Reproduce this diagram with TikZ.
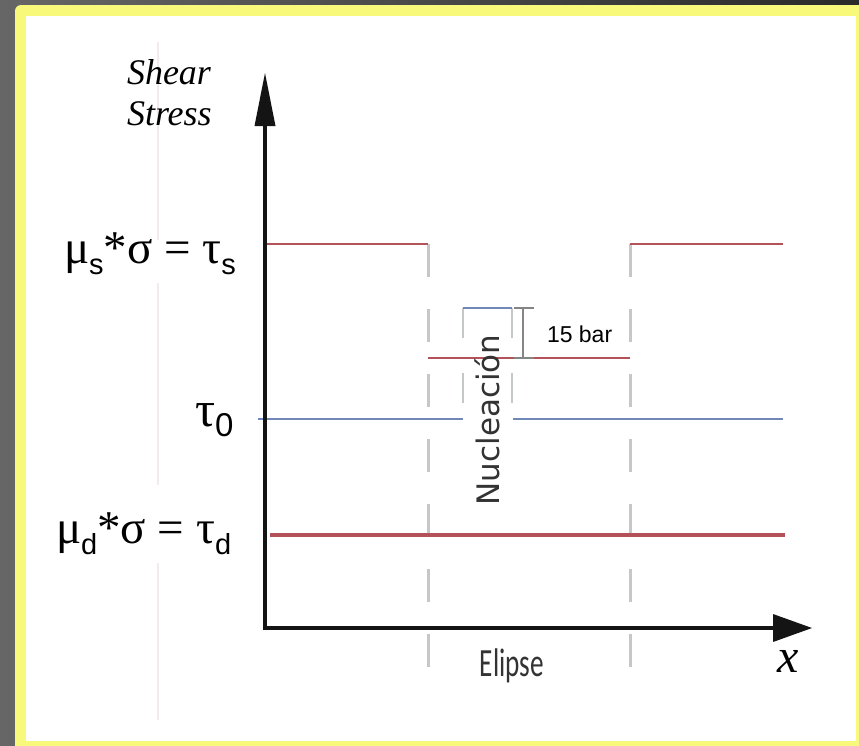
\documentclass[tikz,border=0pt]{standalone}
\usepackage{fontspec}
\usepackage{graphicx}
\setmainfont{Liberation Serif}
\newfontfamily\arialf{Liberation Sans}
\newfontfamily\dejaf{DejaVu Sans}
\newfontfamily\carlf{Carlito}
\definecolor{framegray}{HTML}{666666}
\definecolor{framedark}{HTML}{2A2A2A}
\definecolor{frameyellow}{HTML}{F8F97A}
\definecolor{stressred}{HTML}{B35258}
\definecolor{stressblue}{HTML}{7088B8}
\definecolor{dashgray}{HTML}{C4C8C8}
\definecolor{bargray}{HTML}{858585}
\definecolor{faintline}{HTML}{F2EAEC}
\tikzset{
  axisline/.style={line width=3.5pt, draw=black!92},
  axishead/.style={fill=black!92, draw=none},
  redline/.style={draw=stressred, line width=2.2pt},
  blueline/.style={draw=stressblue, line width=2pt},
  guidedash/.style={draw=dashgray, line width=3pt, dash pattern=on 33pt off 32pt},
  innerdash/.style={draw=dashgray, line width=2.5pt, dash pattern=on 30pt off 35pt},
  barline/.style={draw=bargray, line width=2.5pt},
  lbl/.style={inner sep=0pt, outer sep=0pt},
}
\newcommand{\subsc}[2]{\raisebox{#1}{\arialf\fontsize{#2}{#2}\selectfont}}
\begin{document}
\begin{tikzpicture}[x=1pt,y=-1pt]
\useasboundingbox (0,0) rectangle (859,745);
% frame
\shade[left color=framegray, right color=framedark] (0,0) rectangle (859,745);
\fill[frameyellow, rounded corners=6pt] (15,5) rectangle (880,770);
\fill[white] (26,16) rectangle (856,741);
% faint artefact line
\draw[faintline, line width=1.5pt] (158,42) -- (158,240) (158,283) -- (158,485) (158,563) -- (158,720);

% coordinates
\coordinate (yb) at (265,630);
\coordinate (yt) at (265,118);
\coordinate (xl) at (263,628);
\coordinate (xr) at (776,628);
\coordinate (lx) at (428,244);
\coordinate (rx) at (630,244);

% dashed guides
\draw[guidedash] (lx) -- (428,668);
\draw[guidedash] (rx) -- (630,668);
\draw[innerdash] (463,308) -- (463,405);
\draw[innerdash] (512,308) -- (512,405);

% tau_s lines
\draw[redline] (265,244) -- (lx);
\draw[redline] (rx) -- (783,244);
% nucleation level
\draw[redline, line width=2pt] (428,358) -- (630,358);
\draw[blueline] (463,308) -- (512,308);
% tau_0
\draw[blueline] (258,419) -- (463,419);
\draw[blueline] (513,419) -- (783,419);
% tau_d
\draw[redline, line width=4pt] (270,535) -- (785,535);

% error bar
\coordinate (bt) at (523,308);
\coordinate (bb) at (523,358);
\draw[barline] (bt) -- (bb);
\draw[barline] (514,308) -- (534,308);
\draw[barline] (514,358) -- (534,358);
\node[lbl, anchor=base west, font=\arialf\fontsize{23}{23}\selectfont] (bar) at (547,342) {15 bar};

% axes
\draw[axisline] (yb) -- (yt);
\fill[axishead] (265,73) -- (275.5,126) -- (254.5,126) -- cycle;
\draw[axisline] (xl) -- (xr);
\fill[axishead] (812,628) -- (773,614) -- (773,642) -- cycle;

% labels
\node[lbl, anchor=base west, font=\itshape\fontsize{36}{36}\selectfont] (ylab1) at (127,84) {Shear};
\node[lbl, anchor=base west, font=\itshape\fontsize{36}{36}\selectfont] (ylab2) at (127,125) {Stress};
\node[lbl, anchor=base, font=\itshape\fontsize{48}{48}\selectfont] (xlab) at (788,672) {x};
\node[lbl, anchor=base west, font=\fontsize{47}{47}\selectfont] (taus) at (64,263)
  {μ\raisebox{-11pt}{\arialf\fontsize{29}{29}\selectfont s}*σ = τ\raisebox{-11pt}{\arialf\fontsize{29}{29}\selectfont s}};
\node[lbl, anchor=base west, font=\fontsize{50}{50}\selectfont] (tau0) at (195,426)
  {τ\raisebox{-10pt}{\arialf\fontsize{33}{33}\selectfont 0}};
\node[lbl, anchor=base west, font=\fontsize{47}{47}\selectfont] (taud) at (56,543)
  {μ\raisebox{-11pt}{\arialf\fontsize{29}{29}\selectfont d}*σ = τ\raisebox{-11pt}{\arialf\fontsize{29}{29}\selectfont d}};
\node[lbl, rotate=90, text=black!80, font=\dejaf\fontsize{31}{31}\selectfont] (nuc) at (487,420) {Nucleación};
\node[lbl, anchor=base, text=black!80, font=\carlf\fontsize{40}{40}\selectfont] (eli) at (512,676) {\scalebox{0.68}[1]{Elipse}};
\end{tikzpicture}
\end{document}
